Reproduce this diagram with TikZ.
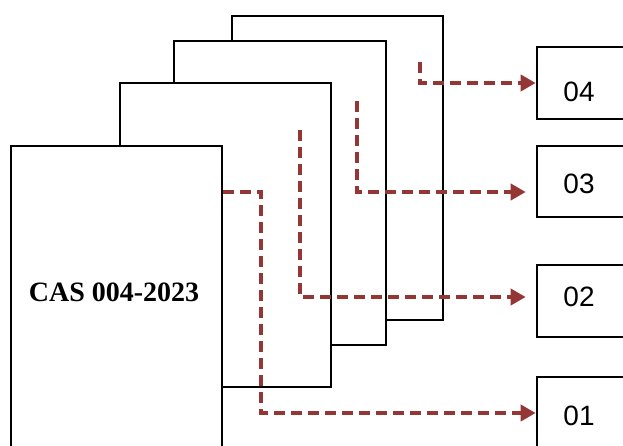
\documentclass[tikz,border=0pt]{standalone}
\usepackage{fontspec}
\newfontfamily\casfont{Liberation Serif}
\newfontfamily\arialfont{Liberation Sans}
\usetikzlibrary{arrows.meta}
\definecolor{flowred}{HTML}{943634}
\tikzset{leaf/.style={draw, line width=2.6pt, fill=white, minimum width=211pt, minimum height=304pt, inner sep=0pt},
	outbox/.style={draw, line width=2.6pt, minimum width=103pt, minimum height=72pt, inner sep=0pt},
	numtxt/.style={font=\arialfont\fontsize{28}{30}\selectfont, inner sep=0pt},
	flow/.style={draw=flowred, line width=4pt, dash pattern=on 11pt off 6pt, -{Triangle[length=15pt,width=16pt]}}}

\begin{document}
\begin{tikzpicture}[x=1pt, y=-1pt]

					\path[use as bounding box, clip] (0,0) rectangle (623,446);

					% stacked pages, back to front
					\node[leaf] (page4) at (337.5,168) {};
					\node[leaf, minimum width=212pt] (page3) at (280,193) {};
					\node[leaf] (page2) at (225.5,235) {};
					\node[leaf] (page1) at (116.5,298) {};
					\node[font=\casfont\bfseries\fontsize{28}{30}\selectfont, inner sep=0pt] (title) at (114,292) {CAS 004-2023};

					% output boxes
					\node[outbox] (b04) at (588.5,83) {};
					\node[outbox, minimum height=71pt] (b03) at (588.5,181.5) {};
					\node[outbox] (b02) at (588.5,301) {};
					\node[outbox] (b01) at (588.5,413) {};
					\node[numtxt] (n04) at (579,92) {04};
					\node[numtxt] (n03) at (579,184) {03};
					\node[numtxt] (n02) at (579,297) {02};
					\node[numtxt] (n01) at (579,416) {01};

					\coordinate (s04) at (420,62);
					\coordinate (s03) at (357,101);
					\coordinate (s02) at (300,130);
					\coordinate (s01) at (page1.east |- 0,192);

					\draw[flow] (s04) |- (b04.west);
					\draw[flow, shorten >=10pt] (s03) |- (b03.west |- 0,192);
					\draw[flow, shorten >=10pt] (s02) |- (b02.west |- 0,297);
					\draw[flow] (s01) -- ++(38,0) |- (b01.west);

\end{tikzpicture}
\end{document}
